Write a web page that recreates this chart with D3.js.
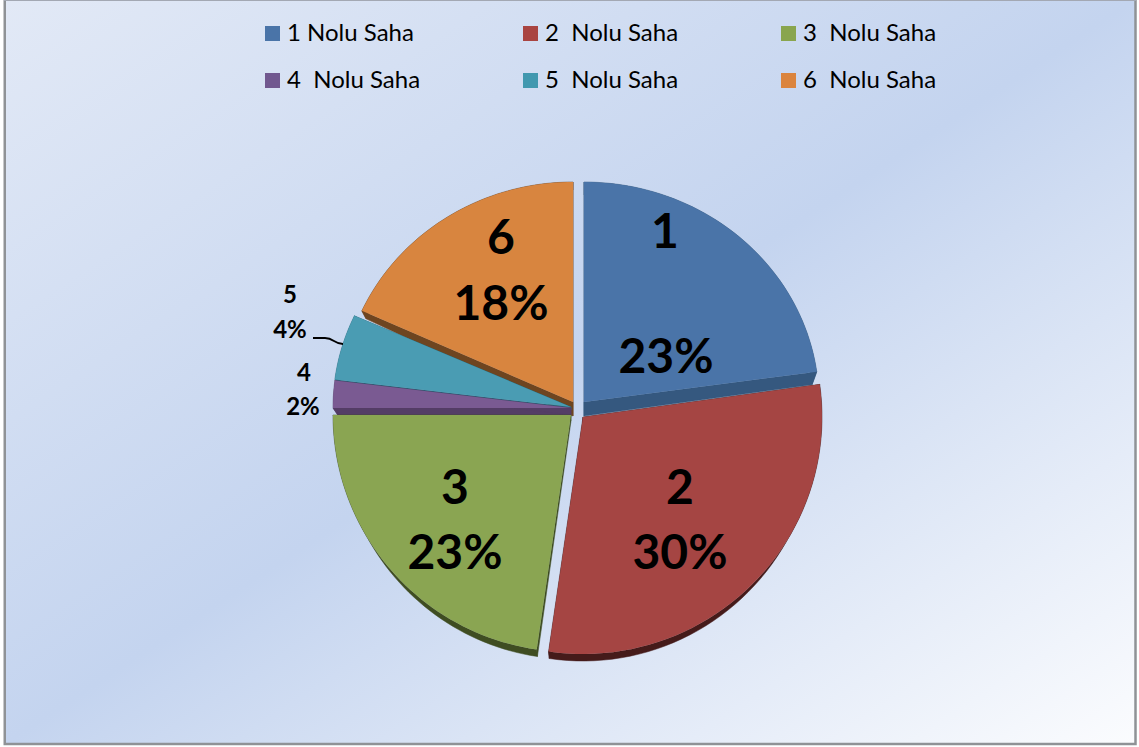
<!DOCTYPE html>
<html><head><meta charset="utf-8">
<script src="https://cdn.jsdelivr.net/npm/d3@7"></script>
<style>html,body{margin:0;padding:0;background:#fff}svg{display:block}text{font-family:Lato,"Open Sans",sans-serif}</style>
</head><body><svg id="c" width="1139" height="747"></svg>
<script>
const categories = ["1 Nolu Saha","2  Nolu Saha","3  Nolu Saha","4  Nolu Saha","5  Nolu Saha","6  Nolu Saha"];
const sliceNames = ["1","2","3","4","5","6"];
const shares = [22.8,29.5,22.7,2,4.8,18.2];
const percentLabels = ["23%","30%","23%","2%","4%","18%"];
const colors = ["#4a74a8","#a54543","#8aa552","#7a5a92","#4a9cb3","#d8853f"];
const wallColors = ["#35587f","#451b1a","#3f4d22","#543d66","#256a7d","#6e4520"];
const legendColors = ["#4a74a8","#a94441","#89a54e","#71588f","#4198af","#db843d"];

// layout (not data)
const apexes = [[584,402],[583,417],[571,415],[571,408],[571,407],[573,402]];
const apexDepth = [14,6,6,7,3,14];
const rimDepth  = [13,7,7,7,3,8];
const radiusX = [235,239,238,238,238,232];
const radiusYTop = [220,237,220,220,220,220];
const labelPos = [
  {name:[665,231],pct:[666,356],size:48},{name:[680,487],pct:[680,552],size:48},
  {name:[455,487],pct:[455,552],size:48},{name:[304,373],pct:[303,407],size:24},
  {name:[290,295],pct:[290,330],size:24},{name:[501,237],pct:[501,303],size:48}];
const legendCols=[265,523,781], legendRows=[26,73];

const svg=d3.select("#c");
const defs=svg.append("defs");
const g=defs.append("linearGradient").attr("id","bg").attr("x1",0).attr("y1",0).attr("x2",1).attr("y2",1);
[[0,"#e2e9f6"],[0.5,"#c4d4ef"],[1,"#fbfcfe"]].forEach(s=>g.append("stop").attr("offset",s[0]).attr("stop-color",s[1]));
svg.append("rect").attr("x",5).attr("y",0).attr("width",1130).attr("height",744).attr("fill","url(#bg)");
// frame: heavier left, right and bottom edges, hairline on top
svg.append("path").attr("d","M4.75,0V744H1135.5V0").attr("fill","none").attr("stroke","#8f9296").attr("stroke-width",2.5);
svg.append("line").attr("x1",4).attr("x2",1136).attr("y1",0.5).attr("y2",0.5).attr("stroke","#a3a8b3").attr("stroke-width",1);

const ryBottom=237;
const pie=d3.pie().sort(null).value(d=>d)(shares);
const pt=(i,a)=>{const [cx,cy]=apexes[i],c=Math.cos(a);
  return [cx+radiusX[i]*Math.sin(a), cy-c*(c>0?radiusYTop[i]:ryBottom)];};
const low=(i,p,t=1)=>{const [cx]=apexes[i];
  const d=apexDepth[i]+(rimDepth[i]-apexDepth[i])*t;
  return [cx+(p[0]-cx)*(1-0.02*t), p[1]+d];};
const line=d3.line();
const order=[0,5,4,3,2,1];
const root=svg.append("g");
order.forEach(i=>{
  const d=pie[i], n=48;
  const angles=d3.range(n+1).map(k=>d.startAngle+(d.endAngle-d.startAngle)*k/n);
  const rim=angles.map(a=>pt(i,a));
  const rimLow=rim.map(p=>low(i,p));
  const a=apexes[i], aLow=low(i,a,0);
  const wall=[[a,rim[0],rimLow[0],aLow],[a,rim[n],rimLow[n],aLow],rim.concat(rimLow.slice().reverse())];
  wall.forEach(w=>root.append("path").attr("d",line(w)+"Z").attr("fill",wallColors[i]).attr("stroke",wallColors[i]).attr("stroke-width",.5));
  root.append("path").attr("d",line([a].concat(rim))+"Z").attr("fill",colors[i]);
});
// leader line for slice 5
root.append("path").attr("d",d3.line().curve(d3.curveBumpX)([[313,338],[325,338],[343,344]]))
  .attr("fill","none").attr("stroke","#000").attr("stroke-width",1.8);

labelPos.forEach((l,i)=>{
  [[l.name,sliceNames[i]],[l.pct,percentLabels[i]]].forEach(([p,t])=>
    svg.append("text").attr("x",p[0]).attr("y",p[1]).attr("dy",".35em").attr("text-anchor","middle")
      .attr("font-weight",700).attr("font-size",l.size).attr("fill","#000").text(t));
});
categories.forEach((c,i)=>{
  const x=legendCols[i%3], y=legendRows[Math.floor(i/3)];
  svg.append("rect").attr("x",x).attr("y",y).attr("width",15).attr("height",15).attr("fill",legendColors[i]);
  svg.append("text").attr("x",x+22).attr("y",y+6.5).attr("dy",".35em").attr("font-size",24).attr("fill","#000")
    .attr("xml:space","preserve").style("white-space","pre").text(c);
});
</script></body></html>
